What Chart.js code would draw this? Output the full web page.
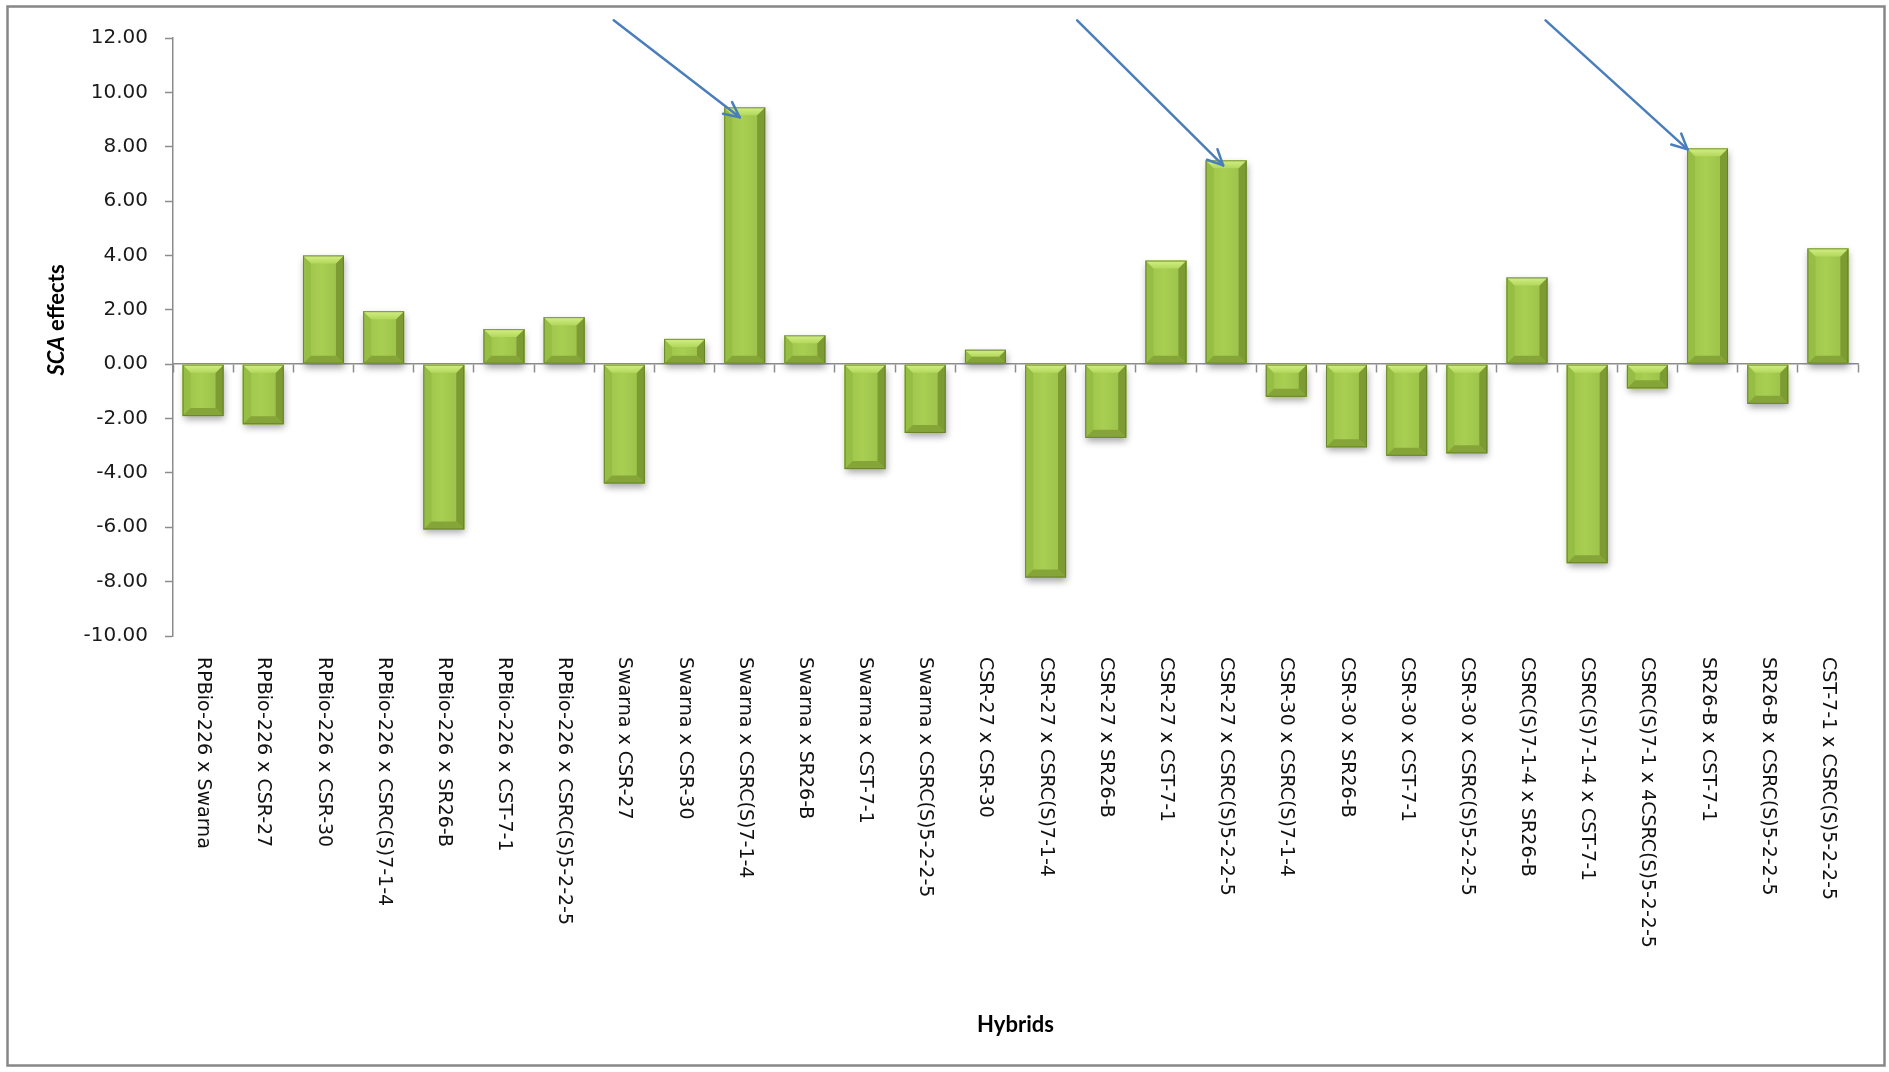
<!DOCTYPE html>
<html>
<head>
<meta charset="utf-8">
<title>SCA effects of hybrids</title>
<script src="https://cdn.jsdelivr.net/npm/chart.js@4.4.1/dist/chart.umd.min.js"></script>
<style>
  html, body { margin: 0; padding: 0; background: #fff; }
  #wrap { width: 1889px; height: 1072px; position: relative; }
</style>
</head>
<body>
<div id="wrap"><canvas id="sca-chart"></canvas></div>
<script>
var hybrids = [
    "RPBio-226 x Swarna",
    "RPBio-226 x CSR-27",
    "RPBio-226 x CSR-30",
    "RPBio-226 x CSRC(S)7-1-4",
    "RPBio-226 x SR26-B",
    "RPBio-226 x CST-7-1",
    "RPBio-226 x CSRC(S)5-2-2-5",
    "Swarna x CSR-27",
    "Swarna x CSR-30",
    "Swarna x CSRC(S)7-1-4",
    "Swarna x SR26-B",
    "Swarna x CST-7-1",
    "Swarna x CSRC(S)5-2-2-5",
    "CSR-27 x CSR-30",
    "CSR-27 x CSRC(S)7-1-4",
    "CSR-27 x SR26-B",
    "CSR-27 x CST-7-1",
    "CSR-27 x CSRC(S)5-2-2-5",
    "CSR-30 x CSRC(S)7-1-4",
    "CSR-30 x SR26-B",
    "CSR-30 x CST-7-1",
    "CSR-30 x CSRC(S)5-2-2-5",
    "CSRC(S)7-1-4 x SR26-B",
    "CSRC(S)7-1-4 x CST-7-1",
    "CSRC(S)7-1 x 4CSRC(S)5-2-2-5",
    "SR26-B x CST-7-1",
    "SR26-B x CSRC(S)5-2-2-5",
    "CST-7-1 x CSRC(S)5-2-2-5"
];

var scaEffects = [
    -1.91, -2.21, 4.00, 1.95, -6.08, 1.29, 1.73,
    -4.39, 0.93, 9.45, 1.06, -3.86, -2.53,
    0.53, -7.85, -2.71, 3.81, 7.50,
    -1.20, -3.06, -3.37, -3.28,
    3.19, -7.32, -0.89, 7.94, -1.46, 4.26
];

var yMin = -10;
var yMax = 12;
var yStep = 2;

// best crosses, marked with arrows: [bar index, run left, rise up]
var highlighted = [
    [9, 126, 97],
    [17, 146, 145],
    [25, 142, 129]
];
var arrowTipShift = [[-5, 10], [-3, 5], [-20, 1]];

var axisGray = "#8c8c8c";

function poly(ctx, pts, fill) {
    ctx.beginPath();
    ctx.moveTo(pts[0][0], pts[0][1]);
    for (var i = 1; i < pts.length; i++) ctx.lineTo(pts[i][0], pts[i][1]);
    ctx.closePath();
    ctx.fillStyle = fill;
    ctx.fill();
}

function barBox(bar) {
    var p = bar.getProps(["x", "y", "base", "width"], true);
    return {
        l: p.x - p.width / 2,
        r: p.x + p.width / 2,
        t: Math.min(p.y, p.base),
        b: Math.max(p.y, p.base)
    };
}

// soft drop shadow under the bars, then bevelled faces on top
var bevelBars = {
    id: "bevelBars",
    beforeDatasetsDraw: function (chart) {
        var ctx = chart.ctx;
        ctx.save();
        ctx.shadowColor = "rgba(0,0,0,0.35)";
        ctx.shadowBlur = 7;
        ctx.shadowOffsetX = 1;
        ctx.shadowOffsetY = 4;
        ctx.fillStyle = "#9cc24a";
        chart.getDatasetMeta(0).data.forEach(function (bar) {
            var bx = barBox(bar);
            ctx.fillRect(bx.l, bx.t, bx.r - bx.l, bx.b - bx.t);
        });
        ctx.restore();
    },
    afterDatasetsDraw: function (chart) {
        var ctx = chart.ctx;
        ctx.save();
        chart.getDatasetMeta(0).data.forEach(function (bar) {
            var bx = barBox(bar);
            var l = bx.l, r = bx.r, t = bx.t, b = bx.b;
            var s = Math.min(8, (b - t) / 2, (r - l) / 2);
            var mid = ctx.createLinearGradient(l, 0, r, 0);
            mid.addColorStop(0, "#9cc348");
            mid.addColorStop(0.45, "#a8cf52");
            mid.addColorStop(1, "#98be47");
            ctx.fillStyle = mid;
            ctx.fillRect(l, t, r - l, b - t);
            poly(ctx, [[l, t], [l + s, t + s], [l + s, b - s], [l, b]], "#96bd44");
            poly(ctx, [[r, t], [r - s, t + s], [r - s, b - s], [r, b]], "#7c9b32");
            var top = ctx.createLinearGradient(0, t, 0, t + s);
            top.addColorStop(0, "#d4ef86");
            top.addColorStop(1, "#b2d85b");
            poly(ctx, [[l, t], [r, t], [r - s, t + s], [l + s, t + s]], top);
            poly(ctx, [[l, b], [r, b], [r - s, b - s], [l + s, b - s]], "#86a538");
            ctx.strokeStyle = "rgba(95,120,38,0.75)";
            ctx.lineWidth = 1;
            ctx.strokeRect(l + 0.5, t + 0.5, r - l - 1, b - t - 1);
        });
        ctx.restore();
    }
};

// rotated category names, axis titles, arrows and frame
var decorations = {
    id: "decorations",
    afterDraw: function (chart) {
        var ctx = chart.ctx;
        var area = chart.chartArea;
        var xs = chart.scales.x;
        var meta = chart.getDatasetMeta(0);
        ctx.save();

        ctx.fillStyle = "#111";
        ctx.font = "19px 'DejaVu Sans'";
        ctx.textAlign = "left";
        ctx.textBaseline = "middle";
        hybrids.forEach(function (name, i) {
            ctx.save();
            ctx.translate(xs.getPixelForValue(i), area.bottom + 21);
            ctx.rotate(Math.PI / 2);
            ctx.fillText(name, 0, 0);
            ctx.restore();
        });

        ctx.font = "bold 22px Lato";
        ctx.textAlign = "center";
        ctx.fillStyle = "#000";
        ctx.fillText("Hybrids", (area.left + area.right) / 2, 1025);

        // y title: "SCA" italic, "effects" upright
        ctx.save();
        ctx.translate(57, 320);
        ctx.rotate(-Math.PI / 2);
        var f1 = "italic bold 22px Lato";
        var f2 = "bold 22px Lato";
        ctx.font = f1;
        var w1 = ctx.measureText("SCA").width;
        ctx.font = f2;
        var w2 = ctx.measureText(" effects").width;
        var x0 = -(w1 + w2) / 2;
        ctx.textAlign = "left";
        ctx.font = f1;
        ctx.fillText("SCA", x0, 0);
        ctx.font = f2;
        ctx.fillText(" effects", x0 + w1, 0);
        ctx.restore();

        // arrows pointing at the highest crosses
        ctx.strokeStyle = "#4a7ebb";
        ctx.lineWidth = 2.5;
        ctx.lineCap = "round";
        highlighted.forEach(function (h, k) {
            var bar = meta.data[h[0]];
            var tx = bar.x + arrowTipShift[k][0];
            var ty = bar.y + arrowTipShift[k][1];
            var sx = tx - h[1];
            var sy = ty - h[2];
            ctx.beginPath();
            ctx.moveTo(sx, sy);
            ctx.lineTo(tx, ty);
            ctx.stroke();
            var ang = Math.atan2(ty - sy, tx - sx);
            var len = 17;
            [0.45, -0.45].forEach(function (d) {
                ctx.beginPath();
                ctx.moveTo(tx, ty);
                ctx.lineTo(tx - len * Math.cos(ang + d), ty - len * Math.sin(ang + d));
                ctx.stroke();
            });
        });

        ctx.strokeStyle = "#878787";
        ctx.lineWidth = 2.5;
        ctx.strokeRect(7.5, 6.5, 1877, 1059);
        ctx.restore();
    }
};

var ctx = document.getElementById("sca-chart").getContext("2d");
var chart = new Chart(ctx, {
    type: "bar",
    data: {
        labels: hybrids,
        datasets: [
            {
                label: "SCA effects",
                data: scaEffects,
                backgroundColor: "#a5cc4f",
                borderWidth: 0,
                barPercentage: 0.68,
                categoryPercentage: 1.0,
            },
        ],
    },
    options: {
        responsive: true,
        maintainAspectRatio: false,
        animation: false,
        layout: {
            padding: { top: 38, right: 31, bottom: 436, left: 0 },
        },
        plugins: {
            legend: { display: false },
            tooltip: { enabled: false },
        },
        scales: {
            x: {
                position: { y: 0 },
                ticks: { display: false },
                grid: {
                    offset: true,
                    drawOnChartArea: false,
                    tickLength: 8,
                    tickColor: axisGray,
                    tickWidth: 1.5,
                },
                border: { color: axisGray, width: 1.5 },
            },
            y: {
                min: yMin,
                max: yMax,
                afterFit: function (scale) {
                    scale.width = 173;
                },
                ticks: {
                    stepSize: yStep,
                    padding: 17,
                    color: "#1a1a1a",
                    font: { family: "DejaVu Sans", size: 20 },
                    callback: function (v) {
                        return Number(v).toFixed(2);
                    },
                },
                grid: {
                    drawOnChartArea: false,
                    tickLength: 8,
                    tickColor: axisGray,
                    tickWidth: 1.5,
                },
                border: { color: axisGray, width: 1.5 },
            },
        },
    },
    plugins: [bevelBars, decorations],
});
</script>
</body>
</html>
